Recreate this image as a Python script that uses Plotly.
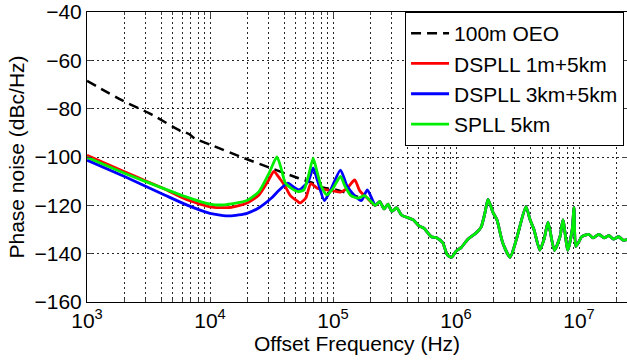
import plotly.graph_objects as go

# ---- data (frequency in Hz, phase noise in dBc/Hz) ----
oeo_f = [1e3, 1.9e3, 3.4e3, 5.9e3, 6.3e3, 6.8e3, 7.5e3, 1.02e4, 1.9e4, 3.16e4, 5.25e4,
         6.9e4, 8e4, 1.07e5, 1.3e5, 1.6e5]
oeo_db = [-68.5, -76.4, -82.6, -89.5, -89.8, -90.6, -92.3, -95, -100.5, -104.7, -108.8,
          -110.8, -112.5, -113.6, -115, -116.5]

red_f = [1e3, 2.04e3, 2.95e3, 4.27e3, 6.3e3, 1e4, 1.45e4, 2e4, 2.5e4, 3.0e4, 3.3e4, 3.7e4,
         4.1e4, 4.5e4, 5.2e4, 5.4e4, 6e4, 6.6e4, 7.5e4, 8.9e4, 1.0e5, 1.15e5, 1.3e5,
         1.5e5, 1.65e5, 1.9e5]
red_db = [-99.3, -106.2, -109.7, -113.2, -117.4, -120.6, -120.9, -119, -115.7, -109.5, -106, -109,
          -112.3, -116, -118.5, -119, -117, -111, -113, -113.6, -114, -114.5, -113,
          -109.5, -114, -117]

blue_f = [1e3, 2.04e3, 4.27e3, 6.3e3, 1e4, 1.45e4, 2e4, 2.5e4, 3.16e4, 3.6e4, 4.3e4,
          4.8e4, 5.3e4, 6.3e4, 6.9e4, 7.5e4, 8.5e4, 9.5e4, 1.15e5, 1.3e5, 1.5e5, 1.7e5,
          1.9e5, 2.1e5]
blue_db = [-101.3, -108.2, -115.7, -119.6, -123.3, -124.4, -123.3, -121, -117, -114,
           -110.8, -112.5, -113.6, -110, -104.5, -110, -118, -114, -105.4, -112, -116, -118,
           -113.6, -118]

green_f = [1e3, 2.04e3, 4.27e3, 6.3e3, 1e4, 1.3e4, 2e4, 2.5e4, 3.0e4, 3.5e4, 3.8e4,
           4.1e4, 4.6e4, 5.2e4, 5.8e4, 6.3e4, 6.9e4, 7.4e4, 8e4, 8.9e4, 1.0e5, 1.15e5,
           1.25e5, 1.4e5, 1.6e5, 1.8e5, 2e5]
green_db = [-100.1, -106.8, -113.2, -116.4, -119.5, -119.8, -118, -114.3, -107, -100, -105,
            -110.8, -113, -114.3, -113.6, -108, -100.5, -106, -112, -115.7, -113, -108,
            -112, -116, -117, -116, -118]

# common high-frequency part shared by the three PLL curves
tail_f = [2.2e5, 2.4e5, 2.6e5, 2.8e5, 3.0e5, 3.3e5, 3.6e5, 4e5, 4.5e5, 5e5, 5.5e5, 6.3e5,
          7e5, 7.8e5, 8.5e5, 9.2e5, 1.0e6, 1.1e6, 1.25e6, 1.45e6, 1.6e6, 1.72e6, 1.82e6,
          2.0e6, 2.15e6, 2.4e6, 2.75e6, 3.1e6, 3.7e6, 4.0e6, 4.3e6, 4.8e6, 5.2e6, 5.6e6,
          6.3e6, 7.0e6, 7.4e6, 8.1e6, 8.8e6, 9.1e6, 9.4e6, 1.0e7, 1.05e7, 1.2e7, 1.3e7,
          1.45e7, 1.6e7, 1.75e7, 1.9e7, 2.1e7, 2.3e7, 2.5e7]
tail_db = [-120, -118.5, -121.5, -119.5, -122.5, -121, -124, -125, -126, -128.5, -129.5, -133,
           -133.5, -135.5, -140.5, -141.5, -139, -137.5, -134, -131.5, -129, -123, -117.5,
           -123, -126, -135.6, -141.5, -134, -120.5, -126, -130, -138.5, -134, -127,
           -138.6, -133, -126, -138.5, -130, -121, -137, -135, -133, -132, -133.5,
           -132, -133.5, -132.5, -134, -133, -134.5, -134]

x_tickvals = [1e3, 1e4, 1e5, 1e6, 1e7]
x_ticktext = ["10<sup>3</sup>", "10<sup>4</sup>", "10<sup>5</sup>", "10<sup>6</sup>", "10<sup>7</sup>"]
x_minorvals = [m * d for d in (1e3, 1e4, 1e5, 1e6, 1e7) for m in range(2, 10)]
y_tickvals = [-40, -60, -80, -100, -120, -140, -160]

FONT = "Liberation Sans, Arial, sans-serif"
GRIDC = "rgba(0,0,0,0.85)"
GDASH = "1.5px,3.5px"

fig = go.Figure()
fig.add_trace(go.Scatter(x=oeo_f, y=oeo_db, mode="lines", name="100m OEO",
                         line=dict(color="black", width=2.5, dash="10px,6px",
                                   shape="spline", smoothing=0.6)))
fig.add_trace(go.Scatter(x=red_f + tail_f, y=red_db + tail_db, mode="lines",
                         name="DSPLL 1m+5km",
                         line=dict(color="#ff0000", width=2.8, shape="spline", smoothing=0.6)))
fig.add_trace(go.Scatter(x=blue_f + tail_f, y=blue_db + tail_db, mode="lines",
                         name="DSPLL 3km+5km",
                         line=dict(color="#0000ff", width=2.8, shape="spline", smoothing=0.6)))
fig.add_trace(go.Scatter(x=green_f + tail_f, y=green_db + tail_db, mode="lines",
                         name="SPLL 5km",
                         line=dict(color="#00ee00", width=2.8, shape="spline", smoothing=0.6)))

fig.update_layout(
    width=627, height=362,
    margin=dict(l=87, r=0, t=12, b=60),
    paper_bgcolor="white", plot_bgcolor="white",
    font=dict(family=FONT, size=21, color="black"),
    showlegend=True,
    legend=dict(x=0.589, y=1.0, xanchor="left", yanchor="top",
                bgcolor="white", bordercolor="black", borderwidth=1,
                itemwidth=38,
                font=dict(family=FONT, size=21), tracegroupgap=0),
    xaxis=dict(type="log", range=[3, 7.39], tickvals=x_tickvals, ticktext=x_ticktext,
               ticks="inside", ticklen=5, showline=True, linecolor="black", linewidth=1,
               mirror="ticks", zeroline=False,
               showgrid=True, gridcolor=GRIDC, griddash=GDASH, gridwidth=1,
               minor=dict(tickvals=x_minorvals, ticks="inside", ticklen=3, showgrid=True,
                          gridcolor=GRIDC, griddash=GDASH, gridwidth=1),
               title=dict(text="Offset Frequency (Hz)", font=dict(size=21), standoff=2)),
    yaxis=dict(range=[-160, -40], tickvals=y_tickvals, ticks="inside", ticklen=5,
               showline=True, linecolor="black", linewidth=1, mirror="ticks",
               zeroline=False,
               showgrid=True, gridcolor=GRIDC, griddash=GDASH, gridwidth=1,
               title=dict(text="Phase noise (dBc/Hz)", font=dict(size=21), standoff=4)),
)

fig.write_html("out.html")
